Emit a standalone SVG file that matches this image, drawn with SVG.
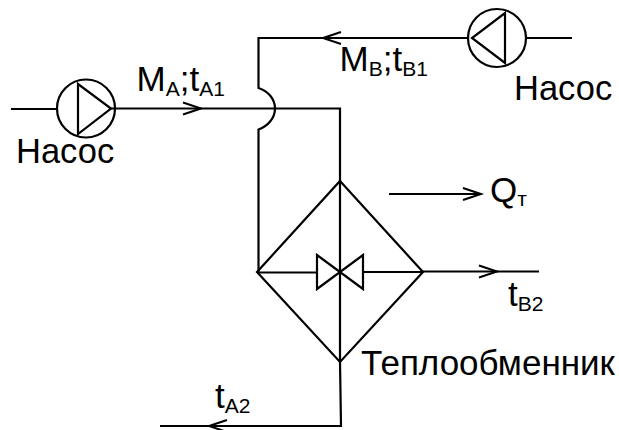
<svg xmlns="http://www.w3.org/2000/svg" width="619" height="430" viewBox="0 0 619 430">
<defs>
<marker id="arr" markerUnits="userSpaceOnUse" markerWidth="20" markerHeight="14" refX="18" refY="6" orient="auto" overflow="visible"><path d="M0 0 L18 6 L0 12" fill="none" stroke="#000" stroke-width="2"/></marker>
</defs>
<style>
.l{fill:none;stroke:#000;stroke-width:2.2}
text{font-family:"Liberation Sans",Arial,sans-serif;font-size:35px;fill:#000}
.n{font-size:34.500px}
.s{font-size:21px}
</style>
<rect width="619" height="430" fill="#fff"/>
<g id="connectors">
<path class="l" d="M11 109H57"/>
<path class="l" d="M111 108.500H201" marker-end="url(#arr)"/>
<path class="l" d="M201 108.500H340V362"/>
<path class="l" d="M468 38H323" marker-end="url(#arr)"/>
<path class="l" d="M323 38H258.500V88C268 91 275 99 275 108.500C275 118 268 126 258.500 129.500V272"/>
<path class="l" d="M526 38H572"/>
<path class="l" d="M257 272.500H317"/>
<path class="l" d="M363 272H423"/>
<path class="l" d="M423 271.500H497" marker-end="url(#arr)"/>
<path class="l" d="M497 271.500H539"/>
<path class="l" d="M389 194H481" marker-end="url(#arr)"/>
<path class="l" d="M340 362L341 426H209" marker-end="url(#arr)"/>
<path class="l" d="M209 426H160"/>
</g>
<g id="pump-a">
<circle class="l" cx="86" cy="108.500" r="29"/>
<path class="l" d="M78 84V134L111 108.500Z"/>
<text class="n" x="16" y="163">Насос</text>
</g>
<g id="pump-b">
<circle class="l" cx="497" cy="38" r="29"/>
<path class="l" d="M505 13V63L472 38Z"/>
<text class="n" x="514" y="99.500">Насос</text>
</g>
<g id="heat-exchanger">
<path class="l" d="M340 181L423 272L340 362L257 272Z"/>
<path class="l" d="M317 255V289L363 255V289Z"/>
<text x="361" y="374.500">Теплообменник</text>
</g>
<g id="labels">
<text x="136.500" y="90.500">M<tspan class="s" dy="5">A</tspan><tspan dy="-5">;t</tspan><tspan class="s" dy="5">A1</tspan></text>
<text x="339.500" y="70.500">M<tspan class="s" dy="5">B</tspan><tspan dy="-5">;t</tspan><tspan class="s" dy="5">B1</tspan></text>
<text x="490" y="202">Q<tspan class="s" dy="4">т</tspan></text>
<text x="508" y="306">t<tspan class="s" dy="5">B2</tspan></text>
<text x="215" y="408">t<tspan class="s" dy="5">A2</tspan></text>
</g>
</svg>
